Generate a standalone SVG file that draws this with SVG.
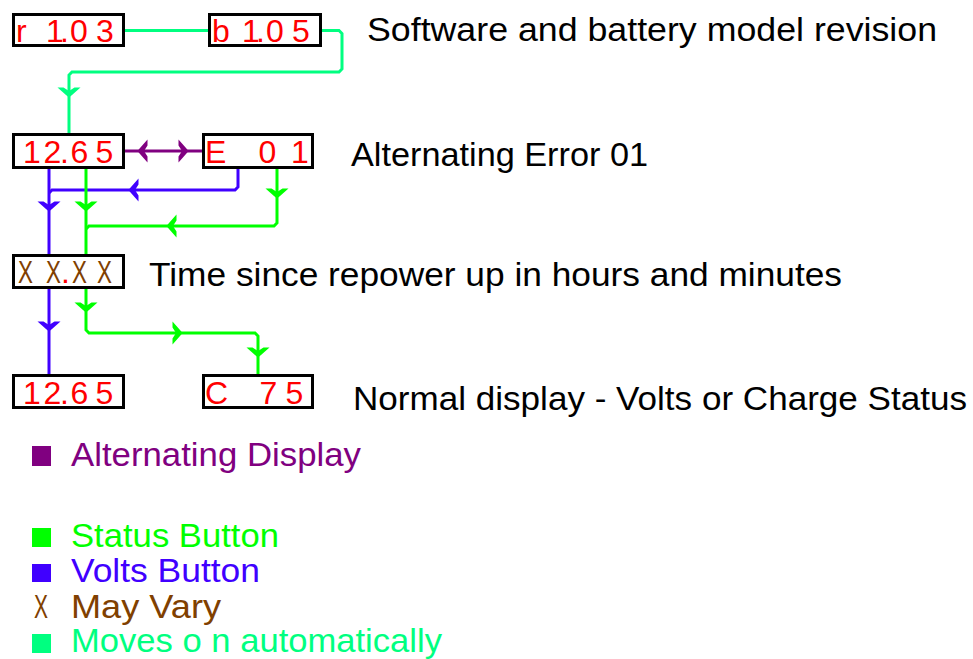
<svg xmlns="http://www.w3.org/2000/svg" xmlns:xlink="http://www.w3.org/1999/xlink" width="973" height="659" viewBox="0 0 973 659">
<style>
.box{fill:#fff;stroke:#000;stroke-width:3}
.seg{font-family:"Liberation Sans","DejaVu Sans",sans-serif;font-size:32px;fill:#f00}
.segx{font-family:"Liberation Sans","DejaVu Sans",sans-serif;font-size:32px;fill:#804000}
.lbl{font-family:"Liberation Sans","DejaVu Sans",sans-serif;font-size:34px;fill:#000}
.leg{font-family:"Liberation Sans","DejaVu Sans",sans-serif;font-size:33px}
.ln{fill:none;stroke-width:3;stroke-linejoin:miter}
.auto{stroke:#00ff80}.stat{stroke:#00ff00}.volt{stroke:#4000ff}.alt{stroke:#800080}
.fauto{fill:#00ff80}.fstat{fill:#00ff00}.fvolt{fill:#4000ff}.falt{fill:#800080}
</style>
<defs>
<path id="ah" d="M-11.5,-4.5 L-5.5,-4.5 L0,-1 L5.5,-4.5 L11.5,-4.5 L3,3 L0,5.5 L-3,3 Z"/>
</defs>
<rect width="973" height="659" fill="#fff"/>

<g id="connectors">
  <path class="ln auto" d="M125,30.5 H208"/>
  <path class="ln auto" d="M322,30.5 H339 L342,33.5 V69 L339,72 H72 L69,75 V133"/>
  <use xlink:href="#ah" class="fauto" transform="translate(69,92)"/>

  <path class="ln alt" d="M125,151 H202"/>
  <use xlink:href="#ah" class="falt" transform="translate(143,151) rotate(90)"/>
  <use xlink:href="#ah" class="falt" transform="translate(183,151) rotate(-90)"/>

  <path class="ln volt" d="M49,169 V254"/>
  <path class="ln volt" d="M238,169 V187 L235,190 H52 L49,193"/>
  <use xlink:href="#ah" class="fvolt" transform="translate(49,206)"/>
  <use xlink:href="#ah" class="fvolt" transform="translate(134,190) rotate(90)"/>

  <path class="ln stat" d="M86,169 V254"/>
  <path class="ln stat" d="M277,169 V223 L274,226 H89 L86,229"/>
  <use xlink:href="#ah" class="fstat" transform="translate(86,206)"/>
  <use xlink:href="#ah" class="fstat" transform="translate(277,193)"/>
  <use xlink:href="#ah" class="fstat" transform="translate(172,226) rotate(90)"/>

  <path class="ln volt" d="M49,289 V374"/>
  <use xlink:href="#ah" class="fvolt" transform="translate(49,326)"/>

  <path class="ln stat" d="M86,289 V330 L89,333 H255 L258,336 V374"/>
  <use xlink:href="#ah" class="fstat" transform="translate(86,307)"/>
  <use xlink:href="#ah" class="fstat" transform="translate(177,333) rotate(-90)"/>
  <use xlink:href="#ah" class="fstat" transform="translate(258,352)"/>
</g>

<g id="node-sw">
  <rect class="box" x="13.5" y="14.5" width="110" height="31"/>
  <text class="seg" x="16 30 46 60 70 96" y="42">r 1.03</text>
</g>
<g id="node-batt">
  <rect class="box" x="209.5" y="14.5" width="111" height="31"/>
  <text class="seg" x="212 226 242 256 266 292" y="42">b 1.05</text>
</g>
<text class="lbl" x="367" y="41" textLength="570" lengthAdjust="spacingAndGlyphs">Software and battery model revision</text>

<g id="node-volts1">
  <rect class="box" x="13.5" y="134.5" width="110" height="33"/>
  <text class="seg" x="23 43.5 60 70.5 95.5" y="163">12.65</text>
</g>
<g id="node-err">
  <rect class="box" x="203.5" y="134.5" width="109" height="33"/>
  <text class="seg" x="205 225 258.5 291" y="163">E 01</text>
</g>
<text class="lbl" x="351" y="166" textLength="297" lengthAdjust="spacingAndGlyphs">Alternating Error 01</text>

<g id="node-time">
  <rect class="box" x="13.5" y="255.5" width="110" height="32"/>
  <text class="segx" transform="translate(0,283) scale(0.7,1)" x="25.7 65.7" y="0">XX</text>
  <text class="seg" x="61" y="283">.</text>
  <text class="segx" transform="translate(0,283) scale(0.7,1)" x="102.9 138.6" y="0">XX</text>
</g>
<text class="lbl" x="149" y="286" textLength="693" lengthAdjust="spacingAndGlyphs">Time since repower up in hours and minutes</text>

<g id="node-volts2">
  <rect class="box" x="13.5" y="375.5" width="110" height="32"/>
  <text class="seg" x="23 43.5 60 70.5 95.5" y="404">12.65</text>
</g>
<g id="node-charge">
  <rect class="box" x="203.5" y="375.5" width="109" height="32"/>
  <text class="seg" x="205 226 259.5 285.5" y="404">C 75</text>
</g>
<text class="lbl" x="353" y="410" textLength="614" lengthAdjust="spacingAndGlyphs">Normal display - Volts or Charge Status</text>

<g id="legend">
  <rect x="32" y="446" width="19" height="20" fill="#800080"/>
  <text class="leg" x="71" y="466" fill="#800080" textLength="290" lengthAdjust="spacingAndGlyphs">Alternating Display</text>
  <rect x="32" y="528" width="19" height="19" fill="#00ff00"/>
  <text class="leg" x="71" y="547" fill="#00ff00" textLength="208" lengthAdjust="spacingAndGlyphs">Status Button</text>
  <rect x="32" y="564" width="19" height="18" fill="#4000ff"/>
  <text class="leg" x="71" y="582" fill="#4000ff" textLength="189" lengthAdjust="spacingAndGlyphs">Volts Button</text>
  <text class="leg" x="34" y="618" fill="#804000" textLength="14" lengthAdjust="spacingAndGlyphs">X</text>
  <text class="leg" x="71" y="618" fill="#804000" textLength="150" lengthAdjust="spacingAndGlyphs">May Vary</text>
  <rect x="32" y="634" width="19" height="19" fill="#00ff80"/>
  <text class="leg" x="71" y="652" fill="#00ff80" font-size="32" textLength="371" lengthAdjust="spacingAndGlyphs">Moves o n automatically</text>
</g>
</svg>
